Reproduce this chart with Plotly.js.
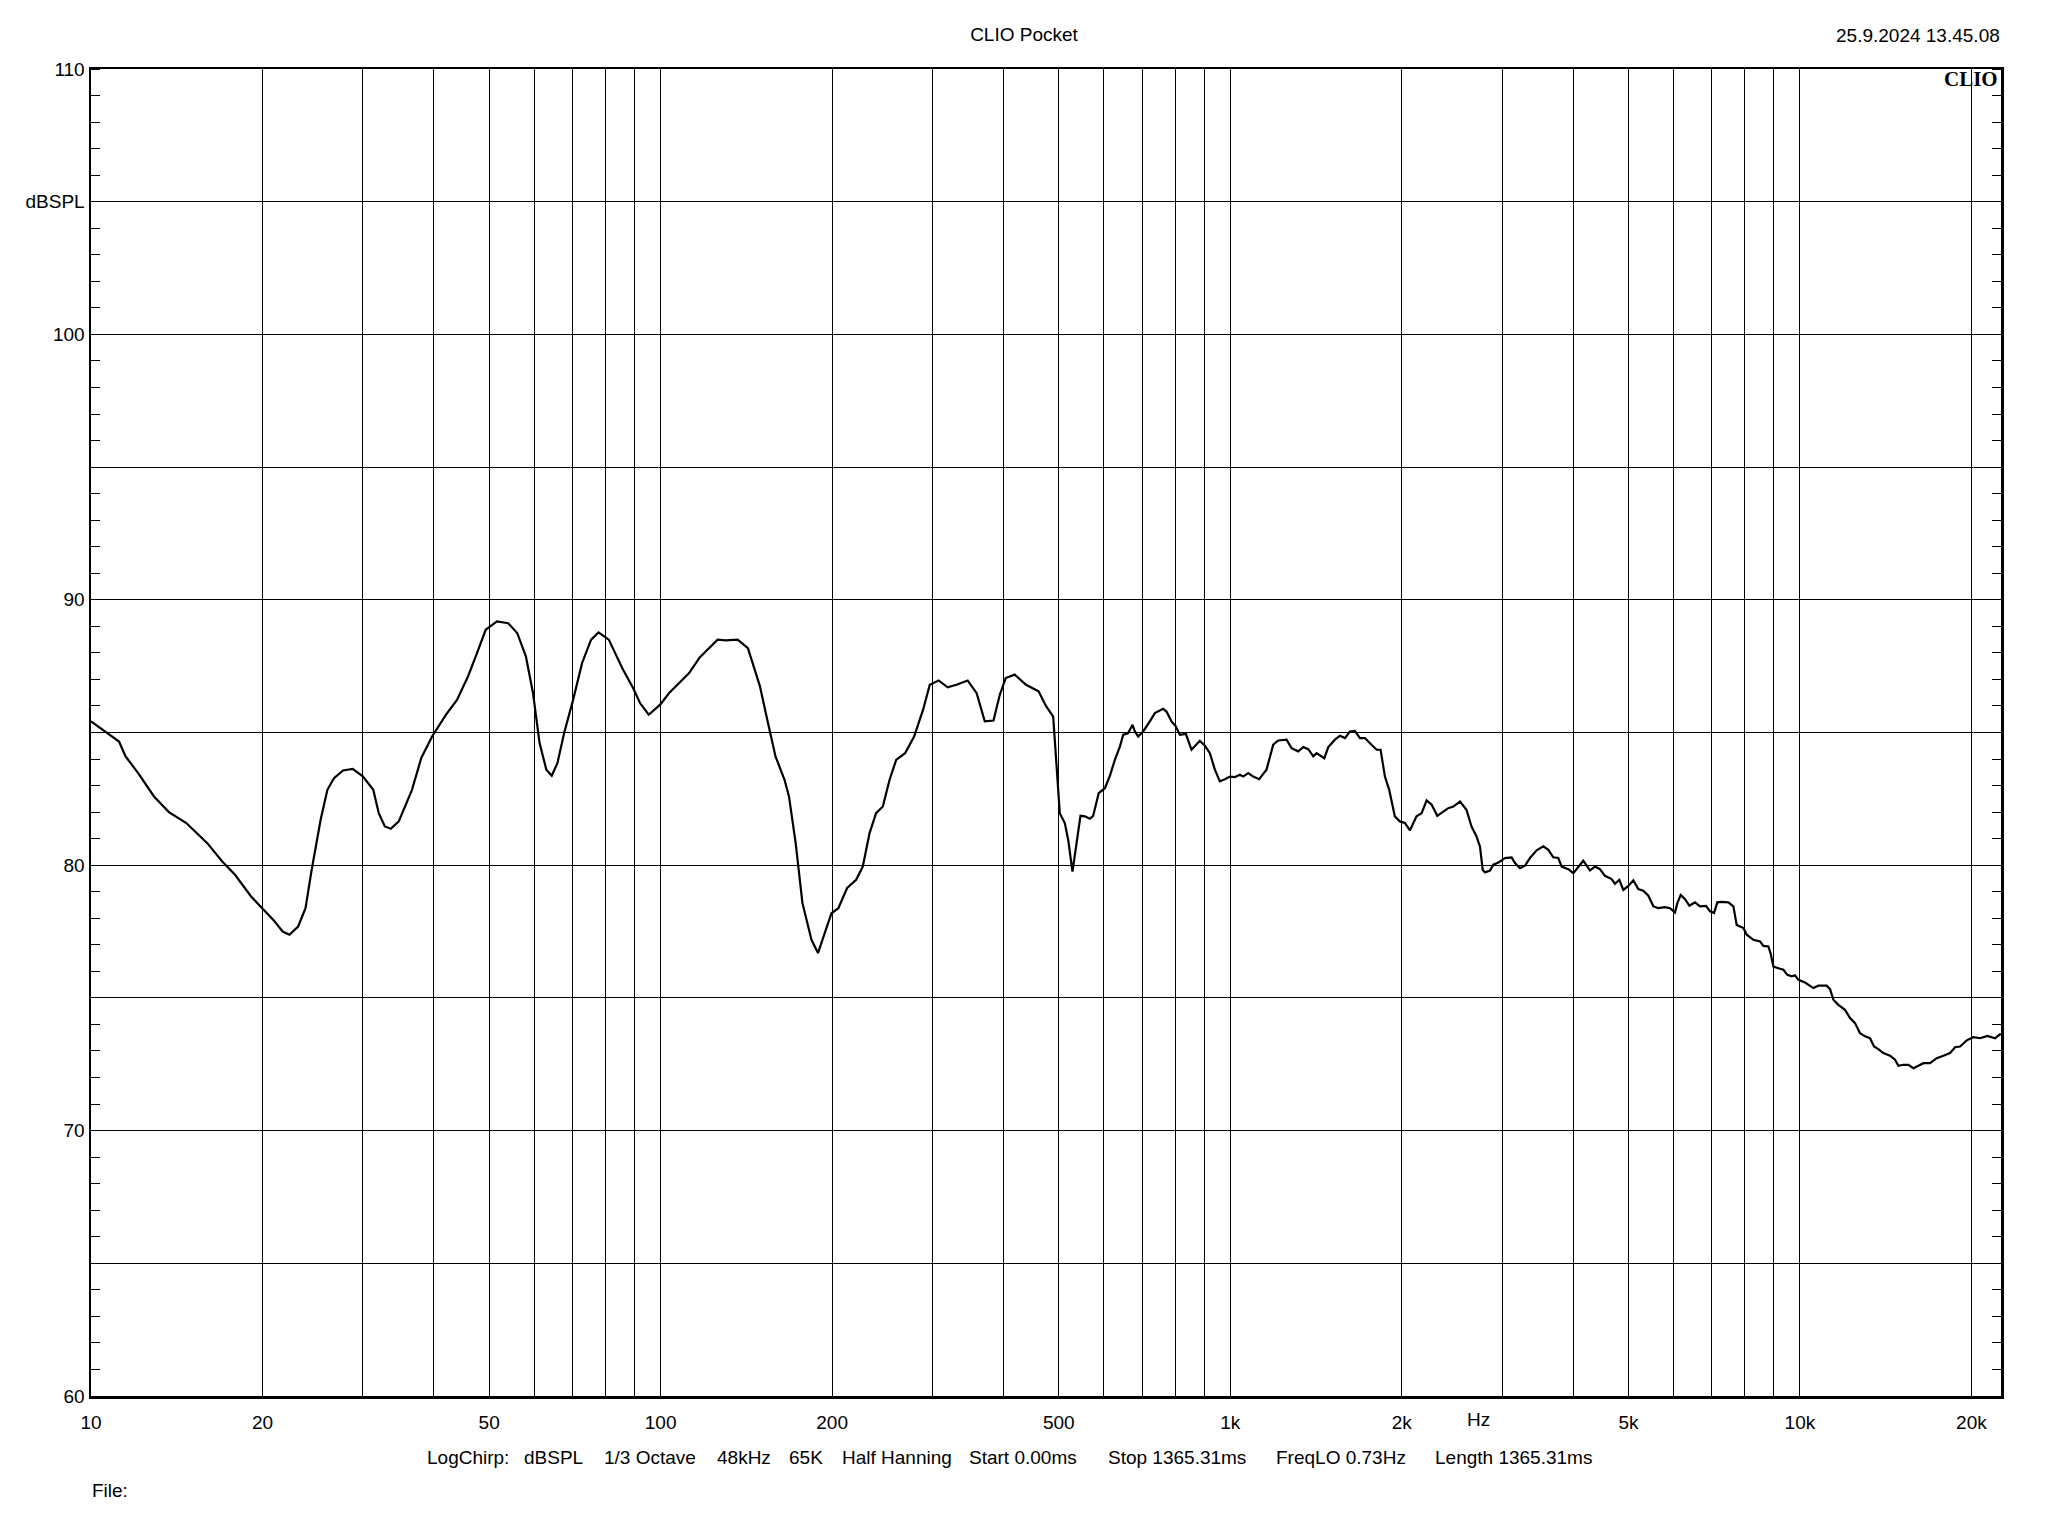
<!DOCTYPE html>
<html><head><meta charset="utf-8">
<script src="https://cdn.plot.ly/plotly-3.0.1.min.js"></script>
<style>html,body{margin:0;padding:0;background:#fff}</style>
</head><body><div id="chart" style="width:2048px;height:1536px"></div>
<script>
const freqHz = [10, 11.2, 11.5, 12.1, 12.9, 13.7, 14.7, 16.0, 17.0, 17.9, 19.1, 20.0, 20.9, 21.7, 22.3, 23.1, 23.8, 24.4, 25.3, 26.0, 26.7, 27.7, 28.8, 30.0, 31.3, 32.0, 32.8, 33.6, 34.7, 36.6, 38.0, 39.7, 42.0, 43.9, 45.9, 47.6, 49.3, 51.6, 54.0, 56.0, 58.0, 59.7, 61.3, 63.0, 64.4, 65.9, 67.7, 70.2, 72.8, 75.5, 77.8, 81.1, 85.6, 89.5, 92.0, 95.3, 99.8, 103.5, 112.2, 117.1, 125.9, 130, 136.5, 142.3, 149.4, 153.4, 159.1, 165.0, 168.0, 172.6, 177.4, 184.0, 188.9, 194.1, 199.5, 205.1, 212.5, 220.4, 226.4, 232.7, 238.9, 245.5, 252.3, 259.1, 268.6, 278.6, 288.9, 296.8, 307.6, 319.0, 330.6, 345.9, 358.7, 370.7, 384.0, 393.9, 403.4, 418.3, 437.9, 460.7, 474.7, 488.8, 495.3, 502.0, 512.3, 519.3, 528.4, 535.6, 545.8, 555.5, 566.8, 574.5, 587.6, 602.4, 614.7, 627.2, 640.0, 648.6, 661.8, 673.5, 680.0, 689.2, 703.2, 722.4, 737.2, 762.4, 772.7, 788.5, 802.4, 815.6, 835.6, 855.0, 884.3, 902.4, 920.9, 939.7, 958.7, 978.3, 998.4, 1019, 1039.4, 1053.6, 1075.2, 1097.1, 1124.1, 1142.4, 1157.8, 1189.6, 1213.8, 1255.5, 1281, 1316, 1343, 1370.6, 1398.6, 1417.6, 1462.4, 1486.2, 1526.8, 1558, 1590, 1622, 1655, 1688.6, 1723, 1770, 1806.6, 1836, 1868.4, 1901, 1945, 1985, 2025.6, 2066.7, 2123, 2167, 2211.6, 2257, 2309, 2366, 2414, 2463.6, 2531, 2598, 2651, 2706, 2744, 2774, 2800, 2857, 2896, 2955, 3035, 3118, 3161, 3225, 3291, 3358, 3450, 3544, 3617, 3690, 3765, 3817, 3921, 4001, 4083, 4166, 4280, 4367, 4456, 4547, 4671, 4735, 4819, 4898, 4998, 5100, 5204, 5309, 5419, 5530, 5642, 5797, 5915, 6036, 6093, 6177, 6286, 6397, 6544, 6678, 6841, 6954, 7067, 7162, 7290, 7489, 7641, 7745, 7957, 8066, 8286, 8511, 8627, 8804, 8887, 8983, 9167, 9354, 9506, 9674, 9803, 9938, 10210, 10416, 10558, 10774, 11143, 11295, 11447, 11681, 12000, 12246, 12496, 12749, 13010, 13274, 13492, 13730, 14011, 14393, 14689, 14888, 15192, 15503, 15821, 16141, 16471, 16922, 17384, 17859, 18345, 18721, 19104, 19626, 20162, 20712, 21338, 22008, 22520];
const splDb = [85.42, 84.66, 84.1, 83.47, 82.59, 82.0, 81.59, 80.83, 80.14, 79.64, 78.82, 78.38, 77.94, 77.5, 77.38, 77.69, 78.38, 79.83, 81.71, 82.84, 83.28, 83.57, 83.63, 83.35, 82.84, 81.96, 81.46, 81.37, 81.65, 82.84, 84.04, 84.85, 85.67, 86.23, 87.11, 87.99, 88.87, 89.19, 89.12, 88.75, 87.87, 86.48, 84.6, 83.6, 83.37, 83.85, 84.98, 86.23, 87.62, 88.5, 88.77, 88.5, 87.43, 86.67, 86.11, 85.67, 86.05, 86.49, 87.24, 87.83, 88.5, 88.47, 88.5, 88.18, 86.74, 85.61, 84.1, 83.22, 82.59, 80.83, 78.57, 77.19, 76.69, 77.44, 78.19, 78.38, 79.14, 79.45, 79.95, 81.21, 81.96, 82.21, 83.22, 83.97, 84.22, 84.85, 85.86, 86.8, 86.96, 86.7, 86.8, 86.96, 86.48, 85.42, 85.45, 86.42, 87.05, 87.18, 86.8, 86.55, 86.0, 85.6, 83.6, 81.96, 81.59, 80.96, 79.76, 80.58, 81.86, 81.84, 81.75, 81.86, 82.72, 82.9, 83.37, 83.97, 84.47, 84.91, 84.98, 85.29, 85.04, 84.85, 85.04, 85.42, 85.73, 85.89, 85.79, 85.42, 85.23, 84.91, 84.95, 84.35, 84.69, 84.5, 84.22, 83.6, 83.16, 83.24, 83.34, 83.32, 83.41, 83.34, 83.47, 83.34, 83.24, 83.44, 83.6, 84.54, 84.7, 84.73, 84.41, 84.29, 84.45, 84.37, 84.1, 84.22, 84.03, 84.45, 84.73, 84.88, 84.79, 85.04, 85.06, 84.79, 84.79, 84.54, 84.35, 84.35, 83.34, 82.84, 81.84, 81.65, 81.59, 81.31, 81.84, 81.96, 82.44, 82.28, 81.86, 82.02, 82.15, 82.21, 82.4, 82.09, 81.46, 81.08, 80.7, 79.83, 79.73, 79.8, 80.02, 80.1, 80.27, 80.29, 80.08, 79.89, 79.98, 80.27, 80.56, 80.71, 80.58, 80.3, 80.27, 79.95, 79.85, 79.7, 79.93, 80.17, 79.8, 79.95, 79.85, 79.6, 79.48, 79.3, 79.45, 79.07, 79.22, 79.43, 79.1, 79.04, 78.85, 78.45, 78.38, 78.42, 78.38, 78.22, 78.57, 78.88, 78.72, 78.47, 78.6, 78.45, 78.47, 78.26, 78.2, 78.6, 78.62, 78.6, 78.45, 77.75, 77.63, 77.38, 77.19, 77.13, 76.96, 76.94, 76.66, 76.18, 76.12, 76.06, 75.87, 75.81, 75.85, 75.68, 75.58, 75.46, 75.37, 75.46, 75.46, 75.33, 74.93, 74.74, 74.55, 74.24, 74.05, 73.67, 73.55, 73.48, 73.17, 73.07, 72.92, 72.82, 72.67, 72.44, 72.48, 72.48, 72.35, 72.44, 72.54, 72.54, 72.73, 72.82, 72.92, 73.14, 73.17, 73.4, 73.52, 73.48, 73.57, 73.48, 73.65];

const xGridVals = [10,20,30,40,50,60,70,80,90,100,200,300,400,500,600,700,800,900,1000,2000,3000,4000,5000,6000,7000,8000,9000,10000,20000];
const xLabelVals = [10,20,50,100,200,500,1000,2000,5000,10000,20000];
const xLabelText = ['10','20','50','100','200','500','1k','2k','5k','10k','20k'];
const yGridVals = [60,65,70,75,80,85,90,95,100,105,110];
const yGridText = ['60','','70','','80','','90','','100','dBSPL','110'];

const infoItems = ['LogChirp:','dBSPL','1/3 Octave','48kHz','65K','Half Hanning','Start 0.00ms','Stop 1365.31ms','FreqLO 0.73Hz','Length 1365.31ms'];
const infoLeftPx = [426,523,603,716,788,841,968,1107,1275,1434];

const W = 2048, H = 1536;
const M = {l:91, r:47, t:69, b:140};
const PW = W - M.l - M.r, PH = H - M.t - M.b;
const px = x => (x - M.l) / PW;
const py = y => (H - M.b - y) / PH;

const FONT = 'Liberation Sans, Arial, sans-serif';
const fnt = {family: FONT, size: 19, color: '#000'};

const xTickText = xGridVals.map(v => { const i = xLabelVals.indexOf(v); return i >= 0 ? xLabelText[i] : ''; });

const annotations = [];
infoItems.forEach((t, i) => annotations.push({text: t, xref:'paper', yref:'paper', x: px(infoLeftPx[i]), y: py(1457), xanchor:'left', yanchor:'middle', showarrow:false, font: fnt, borderpad:0}));
annotations.push({text:'File:', xref:'paper', yref:'paper', x: px(91), y: py(1490), xanchor:'left', yanchor:'middle', showarrow:false, font: fnt, borderpad:0});
annotations.push({text:'Hz', xref:'paper', yref:'paper', x: px(1478), y: py(1419), xanchor:'center', yanchor:'middle', showarrow:false, font: fnt, borderpad:0});
annotations.push({text:'25.9.2024 13.45.08', xref:'paper', yref:'paper', x: px(2001), y: py(35), xanchor:'right', yanchor:'middle', showarrow:false, font: fnt, borderpad:0});
annotations.push({text:'<b>CLIO</b>', xref:'paper', yref:'paper', x: px(1999), y: py(79), xanchor:'right', yanchor:'middle', showarrow:false, font: {family:'Liberation Serif, Times New Roman, serif', size:21, color:'#000'}, borderpad:0});

const trace = {x: freqHz, y: splDb, type:'scatter', mode:'lines', line:{color:'#000', width:2.2}, hoverinfo:'skip'};

const layout = {
  width: W, height: H,
  margin: M,
  paper_bgcolor:'#fff', plot_bgcolor:'#fff',
  showlegend:false,
  font: fnt,
  title: {text:'CLIO Pocket', font: fnt, x:0.5, xref:'container', xanchor:'center', y: 1 - 34/H, yref:'container', yanchor:'middle'},
  xaxis: {
    type:'log', range:[1, 4.353], tickmode:'array', tickvals: xGridVals, ticktext: xTickText,
    showgrid:true, gridcolor:'#000', gridwidth:1, zeroline:false,
    showline:true, linecolor:'#000', linewidth:2.5, mirror:true,
    ticks:'', tickfont: fnt, ticklabelstandoff: 8
  },
  yaxis: {
    range:[60,110], tickmode:'array', tickvals: yGridVals, ticktext: yGridText,
    showgrid:true, gridcolor:'#000', gridwidth:1, zeroline:false,
    showline:true, linecolor:'#000', linewidth:2.5, mirror:'allticks',
    ticks:'', tickfont: fnt, ticklabelstandoff: 0,
    minor: {tickmode:'linear', tick0:0, dtick:1, ticks:'inside', ticklen:9, tickwidth:1, tickcolor:'#000', showgrid:false}
  },
  annotations: annotations
};

Plotly.newPlot('chart', [trace], layout, {displayModeBar:false, staticPlot:true});
</script>
</body></html>
